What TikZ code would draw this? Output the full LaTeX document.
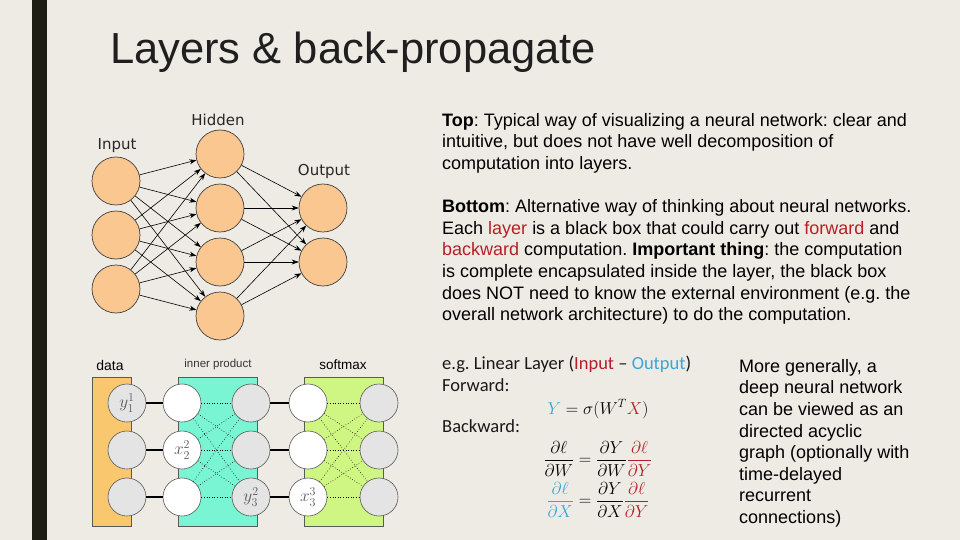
\documentclass[tikz,border=0pt]{standalone}
\usepackage{fontspec}
\setmainfont{Liberation Sans}
\newfontfamily\labelfont{DejaVu Sans}
\newfontfamily\calfont{Carlito}
\usetikzlibrary{positioning,arrows.meta}
\frenchspacing
\definecolor{slidebg}{HTML}{EEEBE4}
\definecolor{slidebar}{HTML}{1E1E14}
\definecolor{peach}{HTML}{FAC791}
\definecolor{dataorange}{HTML}{F8C76E}
\definecolor{ipaqua}{HTML}{7AF5D4}
\definecolor{smlime}{HTML}{CFF583}
\definecolor{unitgray}{HTML}{E4E4E4}
\definecolor{textred}{HTML}{B52025}
\definecolor{eqred}{HTML}{B0202A}
\definecolor{eqblue}{HTML}{3AA6D6}

\begin{document}
\begin{tikzpicture}[x=1pt, y=-1pt,
  neuron/.style={circle, draw=black!75, line width=0.7pt, fill=peach, minimum size=48pt, inner sep=0pt},
  fwd/.style={-{Stealth[length=7pt, width=5pt]}, line width=0.6pt},
  netlabel/.style={font=\labelfont\fontsize{15}{15}\selectfont, text=black!85},
  layerbox/.style={draw=black!65, line width=0.6pt},
  unit/.style={circle, draw=black!65, line width=0.6pt, fill=unitgray, minimum size=38pt, inner sep=0pt, font=\fontsize{17.28}{17.28}\selectfont, text=black!65},
  openunit/.style={unit, fill=white},
  link/.style={line width=2.6pt},
  wire/.style={dotted, line width=0.6pt},
  bodytext/.style={font=\fontsize{18}{21.6}\selectfont, align=left, inner sep=0pt},
  caltext/.style={font=\calfont\fontsize{18.5}{21.6}\selectfont, inner sep=0pt, text=black!90},
  eqn/.style={font=\fontsize{17.28}{20}\selectfont, inner sep=0pt}
]
\useasboundingbox (0,0) rectangle (960,540);
\fill[slidebg] (0,0) rectangle (960,540);
\fill[slidebar] (32,0) rectangle (47,540);

% title
\node[anchor=base west, inner sep=0pt, font=\fontsize{43.5}{43.5}\selectfont, text=black!88] (title) at (110,64) {Layers \& back-propagate};

% top: classic network picture
\node[netlabel] (inlab) at (117,146) {Input};
\node[netlabel] (hidlab) at (218,120) {Hidden};
\node[netlabel] (outlab) at (324,171) {Output};
\foreach \i/\y in {1/181,2/235,3/289}
  \node[neuron] (in\i) at (116,\y) {};
\foreach \h/\y in {1/154,2/208,3/262,4/316}
  \node[neuron] (hid\h) at (220,\y) {};
\foreach \o/\y in {1/208,2/262}
  \node[neuron] (out\o) at (323,\y) {};
\foreach \i in {1,2,3}
  \foreach \h in {1,...,4}
    \draw[fwd] (in\i) -- (hid\h);
\foreach \h in {1,...,4}
  \foreach \o in {1,2}
    \draw[fwd] (hid\h) -- (out\o);

% bottom: layers as boxes
\node[font=\fontsize{14}{14}\selectfont] (datalab) at (110,365) {data};
\node[font=\fontsize{11.5}{11.5}\selectfont, text=black!80] (iplab) at (218,365) {inner product};
\node[font=\fontsize{13.5}{13.5}\selectfont] (smlab) at (343,365) {softmax};
\filldraw[layerbox, fill=dataorange] (92,377) rectangle (131,526);
\filldraw[layerbox, fill=ipaqua] (178,377) rectangle (257,526);
\filldraw[layerbox, fill=smlime] (304,377) rectangle (383,526);
\foreach \k/\y in {1/403,2/450,3/497} {
  \node[unit] (data\k) at (127,\y) {};
  \node[openunit] (ipin\k) at (182,\y) {};
  \node[unit] (ipout\k) at (251,\y) {};
  \node[openunit] (smin\k) at (308,\y) {};
  \node[unit] (smout\k) at (379,\y) {};
}
\foreach \k in {1,2,3} {
  \draw[link] (data\k) -- (ipin\k);
  \draw[link] (ipout\k) -- (smin\k);
  \foreach \j in {1,2,3} {
    \draw[wire] (ipin\k) -- (ipout\j);
    \draw[wire] (smin\k) -- (smout\j);
  }
}
\node[text=black!65, font=\fontsize{17.28}{17.28}\selectfont] at (data1) {$y^1_1$};
\node[text=black!65, font=\fontsize{17.28}{17.28}\selectfont] at (ipin2) {$x^2_2$};
\node[text=black!65, font=\fontsize{17.28}{17.28}\selectfont] at (ipout3) {$y^2_3$};
\node[text=black!65, font=\fontsize{17.28}{17.28}\selectfont] at (smin3) {$x^3_3$};

% explanation
\node[bodytext, anchor=north west] (toptext) at (442,113) {\textbf{Top}: Typical way of visualizing a neural network: clear and\\
intuitive, but does not have well decomposition of\\
computation into layers.\\[21.6pt]
\textbf{Bottom}: Alternative way of thinking about neural networks.\\
Each \textcolor{textred}{layer} is a black box that could carry out \textcolor{textred}{forward} and\\
\textcolor{textred}{backward} computation. \textbf{Important thing}: the computation\\
is complete encapsulated inside the layer, the black box\\
does NOT need to know the external environment (e.g. the\\
overall network architecture) to do the computation.};

% linear layer example
\node[caltext, anchor=base west] (eglin) at (442,369) {e.g. Linear Layer (\textcolor{eqred}{Input} – \textcolor{eqblue}{Output})};
\node[caltext, anchor=base west] (fwdlab) at (442,391) {Forward:};
\node[eqn, anchor=base] (fwdeq) at (598,414) {$\textcolor{eqblue}{Y}=\sigma(W^T\textcolor{eqred}{X})$};
\node[caltext, anchor=base west] (bwdlab) at (442,432) {Backward:};
\node[eqn] (bwdw) at (598,459) {$\displaystyle\frac{\partial\ell}{\partial W}=\frac{\partial Y}{\partial W}\textcolor{eqred}{\frac{\partial\ell}{\partial Y}}$};
\node[eqn] (bwdx) at (598,500) {$\displaystyle\textcolor{eqblue}{\frac{\partial\ell}{\partial X}}=\frac{\partial Y}{\partial X}\textcolor{eqred}{\frac{\partial\ell}{\partial Y}}$};

\node[bodytext, anchor=north west] (dagtext) at (739,359) {More generally, a\\
deep neural network\\
can be viewed as an\\
directed acyclic\\
graph (optionally with\\
time-delayed\\
recurrent\\
connections)};
\end{tikzpicture}
\end{document}
